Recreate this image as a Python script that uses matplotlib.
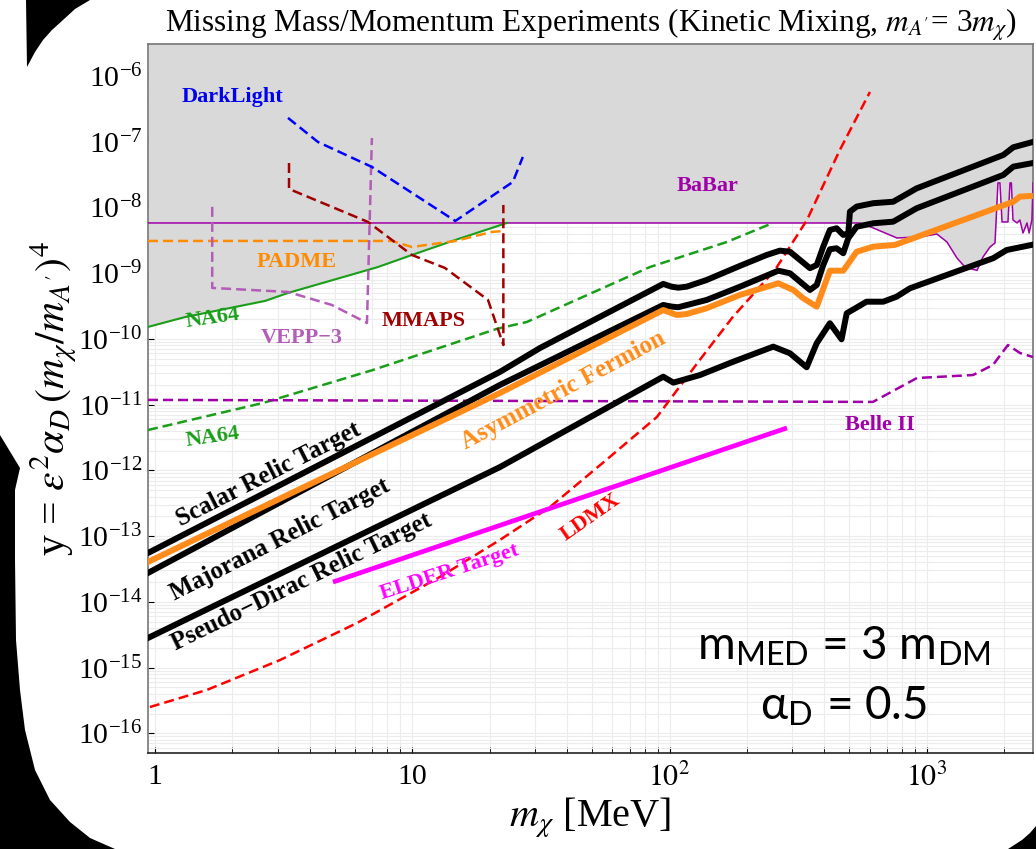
import numpy as np
import matplotlib.pyplot as plt
from matplotlib.patches import Polygon
from matplotlib.ticker import LogLocator, NullFormatter, FixedLocator, FixedFormatter

plt.rcParams['font.family'] = ['Liberation Serif', 'DejaVu Serif']
plt.rcParams['mathtext.fontset'] = 'stix'

# ---------------- data (m_chi in MeV, y) ----------------
scalar_x = [0.94, 21.9, 31.4, 94.5, 101.9, 108.1, 116.5, 139.3, 187.7, 238.5, 268.5, 293.7, 321.2, 351.3,
            373.2, 395.6, 419.8, 445.8, 473.2, 494.9, 502.4, 533.6, 619.4, 739.6, 912.8, 1982, 2167, 2555]
scalar_y = [5.53e-14, 3.14e-11, 7.28e-11, 6.86e-10, 6.22e-10, 6.01e-10, 6.22e-10, 7.87e-10, 1.29e-9,
            1.89e-9, 2.20e-9, 2.12e-9, 1.59e-9, 1.19e-9, 1.33e-9, 2.53e-9, 4.54e-9, 4.82e-9, 3.81e-9,
            4.04e-9, 8.63e-9, 1.03e-8, 1.16e-8, 1.22e-8, 1.95e-8, 6.28e-8, 8.22e-8, 9.8e-8]

maj_x = [0.94, 21.9, 94.5, 101.9, 108.1, 139.3, 187.7, 264.6, 293.7, 321.2, 351.3, 373.2, 395.6, 419.8,
         445.8, 473.2, 494.9, 533.6, 619.4, 739.6, 912.8, 1982, 2167, 2555]
maj_y = [2.75e-14, 1.99e-11, 3.28e-10, 3.10e-10, 3.03e-10, 3.91e-10, 6.22e-10, 1.09e-9, 9.96e-10,
         7.43e-10, 5.55e-10, 6.61e-10, 1.33e-9, 2.31e-9, 2.39e-9, 2.01e-9, 3.40e-9, 5.09e-9, 5.74e-9,
         6.07e-9, 9.71e-9, 3.12e-8, 4.17e-8, 4.70e-8]

asym_x = [0.94, 21.9, 94.5, 106.6, 116.5, 139.3, 187.7, 264.6, 302.6, 330.9, 373.2, 419.8, 473.2, 533.6,
          619.4, 751.6, 2167, 2300, 2516]
asym_y = [4.04e-14, 1.50e-11, 2.75e-10, 2.31e-10, 2.39e-10, 2.92e-10, 4.66e-10, 7.01e-10, 5.55e-10,
          4.15e-10, 3.09e-10, 1.09e-9, 1.09e-9, 2.12e-9, 2.53e-9, 2.69e-9, 1.22e-8, 1.46e-8, 1.49e-8]

pd_x = [0.94, 21.9, 94.5, 103.5, 131.3, 176.9, 253, 293.7, 341, 373, 419.8, 466, 488, 583, 677, 763, 860,
        1811, 2043, 2555]
pd_y = [2.82e-15, 1.12e-12, 2.66e-11, 2.16e-11, 2.82e-11, 4.50e-11, 7.62e-11, 6.04e-11, 3.70e-11,
        8.57e-11, 1.73e-10, 9.86e-11, 2.45e-10, 3.68e-10, 3.68e-10, 4.39e-10, 5.89e-10, 1.69e-9, 2.25e-9,
        2.69e-9]

babar_x = [0.94, 550, 618, 765, 940, 1094, 1197, 1309, 1406, 1566, 1652, 1759, 1840, 1889, 1923, 1959,
           2066, 2104, 2130, 2161, 2240, 2300, 2364, 2450, 2496, 2560, 2585]
babar_y = [5.8e-9, 5.8e-9, 4.88e-9, 3.43e-9, 3.56e-9, 3.94e-9, 2.98e-9, 1.70e-9, 1.24e-9, 1.10e-9, 1.76e-9,
           2.50e-9, 2.88e-9, 2.36e-8, 2.36e-8, 6.01e-9, 6.01e-9, 2.36e-8, 2.36e-8, 6.44e-9, 5.81e-9, 6.44e-9,
           4.08e-9, 5.81e-9, 4.08e-9, 6.44e-9, 2.36e-8]

belle_x = [0.94, 617, 915, 1511, 1806, 2066, 2300, 2585]
belle_y = [1.18e-11, 1.10e-11, 2.54e-11, 2.82e-11, 4.01e-11, 8.07e-11, 6.1e-11, 5.3e-11]

na64_x = [0.94, 1.31, 2.68, 3.29, 7.36, 9.97, 14.7, 20.96, 23.3]
na64_y = [1.52e-10, 2.15e-10, 3.78e-10, 5.0e-10, 1.24e-9, 1.89e-9, 3.20e-9, 5.05e-9, 5.8e-9]

na64p_x = [0.94, 2.63, 7.04, 21.3, 27.9, 83.9, 167, 252]
na64p_y = [4.11e-12, 1.06e-11, 3.37e-11, 1.42e-10, 1.81e-10, 1.24e-9, 2.98e-9, 5.8e-9]

dl_x = [3.29, 4.30, 6.97, 14.7, 24.6, 26.9]
dl_y = [2.30e-7, 9.9e-8, 4.13e-8, 6.22e-9, 2.44e-8, 5.86e-8]

mm_x = [3.32, 3.32, 6.73, 9.97, 13.4, 19.7, 22.6, 22.6]
mm_y = [4.74e-8, 1.91e-8, 6.01e-9, 1.89e-9, 1.20e-9, 3.91e-10, 8.07e-11, 1.09e-8]

vepp_x = [1.67, 1.67, 3.29, 4.87, 6.67, 6.97]
vepp_y = [1.02e-8, 5.96e-10, 5.18e-10, 3.28e-10, 1.75e-10, 1.14e-7]

padme_x = [0.94, 8.34, 9.97, 14.7, 20.4, 22.9]
padme_y = [3.09e-9, 3.09e-9, 2.50e-9, 3.09e-9, 4.24e-9, 4.39e-9]

ldmx_x = [0.956, 1.59, 3.06, 6.10, 12.8, 21.9, 34.3, 58.6, 89.3, 131, 176, 257, 342, 459, 601]
ldmx_y = [2.51e-16, 4.56e-16, 1.30e-15, 4.76e-15, 2.39e-14, 8.73e-14, 2.77e-13, 1.60e-12, 6.49e-12,
          4.78e-11, 2.15e-10, 1.12e-9, 6.44e-9, 7.48e-8, 5.71e-7]

elder_x = [4.92, 286]
elder_y = [2.00e-14, 4.42e-12]

# ---------------- figure ----------------
W, H = 1036, 849
fig = plt.figure(figsize=(W / 100, H / 100), dpi=100)

# black slide corners
def fig_poly(pts):
    return Polygon([(x / W, 1 - y / H) for x, y in pts], closed=True, transform=fig.transFigure,
                   facecolor='black', edgecolor='none', zorder=0)

fig.patches.append(fig_poly([(26, 0), (90, 0), (75, 9), (63, 20), (52, 30), (43, 40), (35, 52), (27, 67)]))
fig.patches.append(fig_poly([(0, 435), (20, 468), (15, 490), (15, 560), (16, 640), (20, 690), (25, 730),
                             (35, 770), (50, 800), (70, 822), (90, 838), (115, 849), (0, 849)]))
fig.patches.append(fig_poly([(1036, 826), (1036, 849), (1008, 849), (1022, 840), (1030, 833)]))

ax = fig.add_axes([148 / W, 1 - 752.7 / H, (1033 - 148) / W, (752.7 - 44.3) / H])
ax.set_xscale('log')
ax.set_yscale('log')
ax.set_xlim(0.94, 2585)
ax.set_ylim(5.07e-17, 3.03e-6)

# excluded region
bound_x = na64_x + [x for x in babar_x if x > na64_x[-1]]
bound_y = na64_y + [y for x, y in zip(babar_x, babar_y) if x > na64_x[-1]]
ax.fill_between(bound_x, bound_y, 1e-4, color='#d9d9d9', lw=0, zorder=1)

dash = (4, 2)
dlw = 1.8
ax.plot(babar_x, babar_y, color='#a000a8', lw=1.1, zorder=3)
ax.plot(na64_x, na64_y, color='#1a9e1a', lw=1.5, zorder=3)
ax.plot(na64p_x, na64p_y, color='#1a9e1a', lw=dlw, dashes=dash, zorder=3)
ax.plot(belle_x, belle_y, color='#a000a8', lw=dlw, dashes=dash, zorder=3)
ax.plot(padme_x, padme_y, color='#ff8c00', lw=dlw, dashes=dash, zorder=3)
ax.plot(vepp_x, vepp_y, color='#b35cb8', lw=dlw, dashes=dash, zorder=3)
ax.plot(mm_x, mm_y, color='#a00000', lw=dlw, dashes=dash, zorder=3)
ax.plot(dl_x, dl_y, color='#0000ff', lw=dlw, dashes=dash, zorder=3)
ax.plot(ldmx_x, ldmx_y, color='#ff0000', lw=dlw, dashes=dash, zorder=4)
ax.plot(elder_x, elder_y, color='#ff00ff', lw=3.4, zorder=4, solid_capstyle='butt')
for xs, ys in [(scalar_x, scalar_y), (maj_x, maj_y), (pd_x, pd_y)]:
    ax.plot(xs, ys, color='black', lw=4.3, zorder=5, solid_joinstyle='round')
ax.plot(asym_x, asym_y, color='#ff8c1a', lw=4.3, zorder=6, solid_joinstyle='round')

# ---------------- labels on curves ----------------
lab = dict(fontweight='bold', fontsize=16, ha='center', va='center', zorder=7)
big = dict(lab, fontsize=18)
ax.text(2.01, 4.8e-7, 'DarkLight', color='#0000ee', **lab)
ax.text(140, 2.12e-8, 'BaBar', color='#a000a8', **lab)
ax.text(3.56, 1.48e-9, 'PADME', color='#ff8c00', **lab)
ax.text(1.68, 2.08e-10, 'NA64', color='#1a9e1a', rotation=8, **lab)
ax.text(3.73, 1.03e-10, 'VEPP\u22123', color='#b35cb8', **lab)
ax.text(11.1, 1.87e-10, 'MMAPS', color='#a00000', **lab)
ax.text(1.68, 3.22e-12, 'NA64', color='#1a9e1a', rotation=8, **lab)
ax.text(657, 4.9e-12, 'Belle II', color='#a000a8', **lab)
ax.text(38.5, 1.66e-11, 'Asymmetric Fermion', color='#ff8c1a', rotation=28, **big)
ax.text(2.77, 8.8e-13, 'Scalar Relic Target', color='black', rotation=27, **big)
ax.text(3.06, 8.7e-14, 'Majorana Relic Target', color='black', rotation=27, **big)
ax.text(3.73, 2.0e-14, 'Pseudo\u2212Dirac Relic Target', color='black', rotation=26, **big)
ax.text(14.0, 2.84e-14, 'ELDER Target', color='#ff00ff', rotation=18, **lab)
ax.text(49.5, 1.95e-13, 'LDMX', color='#ff0000', rotation=35, **lab)

sans = ['Lato', 'DejaVu Sans']
ax.text(0.786, 0.152, 'm$_\\mathregular{MED}$ = 3 m$_\\mathregular{DM}$', transform=ax.transAxes,
        fontsize=33, family=sans, ha='center', va='center', zorder=7)
ax.text(0.786, 0.067, '\u03b1$_\\mathregular{D}$ = 0.5', transform=ax.transAxes,
        fontsize=33, family=sans, ha='center', va='center', zorder=7)

# ---------------- axes styling ----------------
ax.set_axisbelow(True)
ax.xaxis.set_major_locator(FixedLocator([1, 10, 100, 1000]))
ax.xaxis.set_major_formatter(FixedFormatter(['1', '10', '$10^2$', '$10^3$']))
ax.xaxis.set_minor_locator(LogLocator(base=10, subs=np.arange(2, 10), numticks=50))
ax.xaxis.set_minor_formatter(NullFormatter())
ax.yaxis.set_major_locator(LogLocator(base=10, numticks=30))
ax.yaxis.set_minor_locator(LogLocator(base=10, subs=np.arange(2, 10), numticks=200))
ax.yaxis.set_minor_formatter(NullFormatter())
ax.grid(which='both', color='#ececec', lw=0.8)
ax.tick_params(which='both', direction='in', labelsize=21.5)
ax.tick_params(axis='x', which='major', length=4.5, pad=8)
ax.tick_params(axis='x', which='minor', length=4)
ax.tick_params(axis='y', which='major', length=4.5, pad=4)
ax.tick_params(axis='y', which='minor', length=0)
for s in ax.spines.values():
    s.set_color('#777777')
    s.set_linewidth(1.2)
ax.spines['bottom'].set_color('#222222')

ax.set_title("Missing Mass/Momentum Experiments (Kinetic Mixing, $m_{A'}$= 3$m_\\chi$)",
             fontsize=22.5, pad=6)
ax.set_xlabel('$m_\\chi$ [MeV]', fontsize=29, labelpad=2)
ax.set_ylabel("y = $\\epsilon^2\\alpha_D\\,(m_\\chi/m_{A'})^4$", fontsize=30, labelpad=-1)

fig.savefig('out.png', dpi=100)
